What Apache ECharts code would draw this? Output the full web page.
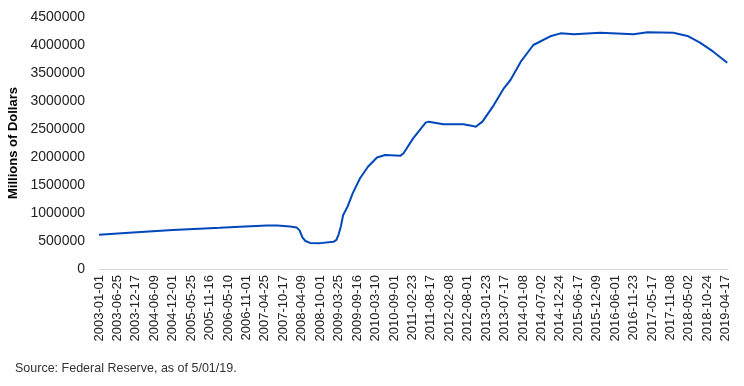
<!DOCTYPE html>
<html>
<head>
<meta charset="utf-8">
<script src="https://cdn.jsdelivr.net/npm/echarts@6/dist/echarts.min.js"></script>
<style>
  html, body { margin: 0; padding: 0; background: #fff; }
  #chart { width: 744px; height: 386px; }
</style>
</head>
<body>
<div id="chart"></div>
<script>
// weekly tick labels, one every 25 weeks from 2003-01-01
let tickLabels = [
  '2003-01-01', '2003-06-25', '2003-12-17', '2004-06-09', '2004-12-01',
  '2005-05-25', '2005-11-16', '2006-05-10', '2006-11-01', '2007-04-25',
  '2007-10-17', '2008-04-09', '2008-10-01', '2009-03-25', '2009-09-16',
  '2010-03-10', '2010-09-01', '2011-02-23', '2011-08-17', '2012-02-08',
  '2012-08-01', '2013-01-23', '2013-07-17', '2014-01-08', '2014-07-02',
  '2014-12-24', '2015-06-17', '2015-12-09', '2016-06-01', '2016-11-23',
  '2017-05-17', '2017-11-08', '2018-05-02', '2018-10-24', '2019-04-17'
]

// week index since 2003-01-01
let weeks = [
  0, 46, 100, 164, 191, 228, 242, 259, 268, 272, 276, 280, 286, 300, 318,
  322, 325, 328, 331, 337, 344, 354, 365, 377, 388, 409, 413, 426, 443, 447,
  467, 494, 505, 511, 520, 534, 549, 558, 572, 589, 595, 612, 626, 644, 680,
  725, 744, 779, 798, 815, 833, 852
]

// millions of dollars
let values = [
  610000, 650000, 695000, 737000, 755000, 778000, 775000, 760000, 740000, 690000,
  560000, 500000, 465000, 462000, 485000, 520000, 620000, 760000, 960000, 1110000,
  1350000, 1620000, 1830000, 1990000, 2036000, 2024000, 2066000, 2333000, 2613000, 2631000,
  2583000, 2583000, 2560000, 2541000, 2631000, 2899000, 3227000, 3375000, 3702000, 4000000,
  4040000, 4155000, 4208000, 4190000, 4220000, 4190000, 4226000, 4220000, 4161000, 4042000,
  3881000, 3684000
]

let chart = echarts.init(document.getElementById('chart'))

let option = {
  animation: false,
  grid: { left: 99, right: 16, top: 17, bottom: 117, outerBoundsMode: 'none' },
  xAxis: {
    type: 'value',
    min: 0,
    max: 853,
    interval: 25,
    axisLine: { show: true, lineStyle: { color: '#d9d9d9', width: 1 } },
    axisTick: { show: false },
    splitLine: { show: false },
    axisLabel: {
      rotate: 90,
      margin: 6,
      fontFamily: 'Liberation Sans, Arial, sans-serif',
      fontSize: 13,
      color: '#222',
      showMaxLabel: false,
      formatter: function (v) {
        return v % 25 === 0 ? (tickLabels[v / 25] || '') : ''
      }
    }
  },
  yAxis: {
    type: 'value',
    min: 0,
    max: 4500000,
    interval: 500000,
    name: 'Millions of Dollars',
    nameLocation: 'middle',
    nameRotate: 90,
    nameGap: 62,
    nameTextStyle: {
      fontFamily: 'Liberation Sans, Arial, sans-serif',
      fontSize: 13,
      fontWeight: 'bold',
      color: '#000'
    },
    axisLine: { show: false },
    axisTick: { show: false },
    splitLine: { show: false },
    axisLabel: {
      margin: 14,
      fontFamily: 'Liberation Sans, Arial, sans-serif',
      fontSize: 14,
      color: '#222',
      formatter: function (v) { return String(v) }
    }
  },
  graphic: [{
    type: 'text',
    left: 15,
    top: 362,
    style: {
      text: 'Source: Federal Reserve, as of 5/01/19.',
      font: '12.5px Liberation Sans, Arial, sans-serif',
      fill: '#333'
    }
  }],
  series: [{
    type: 'line',
    data: weeks.map(function (w, i) { return [w, values[i]] }),
    showSymbol: false,
    lineStyle: { color: '#0047bb', width: 2 }
  }]
}

chart.setOption(option)
</script>
</body>
</html>
